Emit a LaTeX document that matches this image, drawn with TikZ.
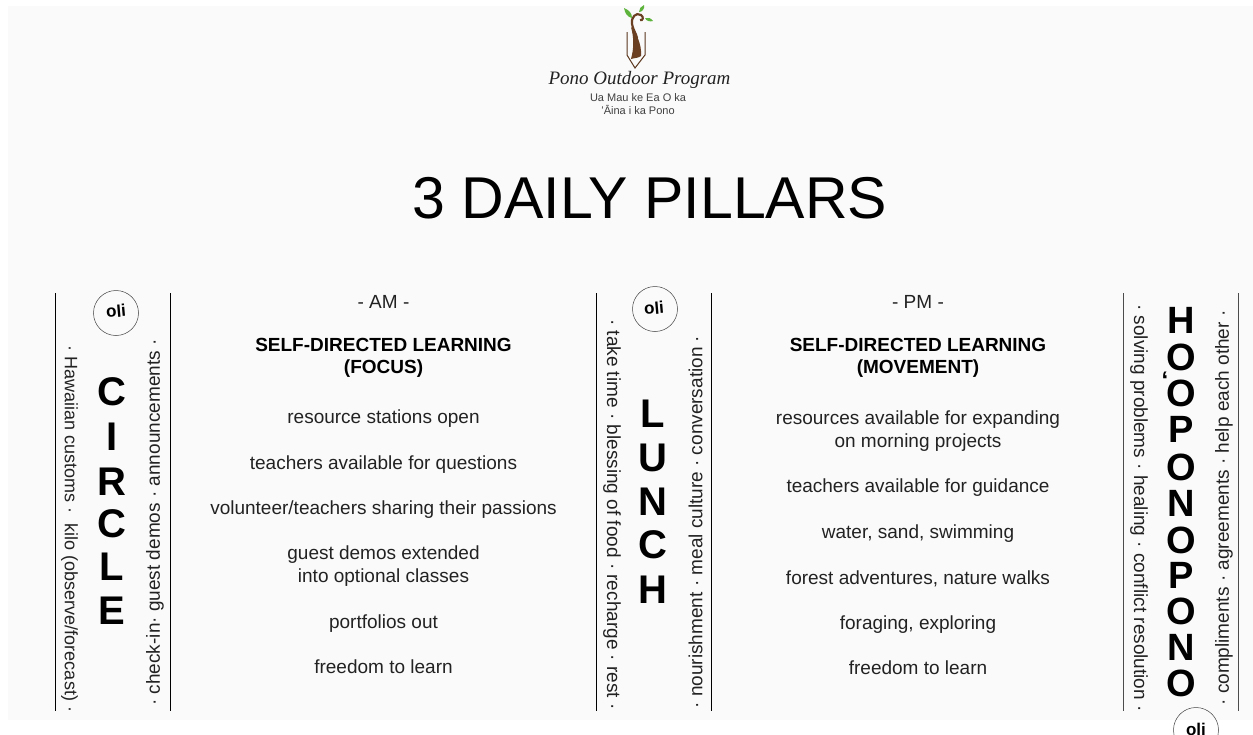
\documentclass[tikz,border=0pt]{standalone}
\usepackage{fontspec}
\setmainfont{Liberation Sans}
\newfontfamily\logofont{Liberation Serif}
\definecolor{pagebg}{HTML}{FAFAFA}
\definecolor{ink}{HTML}{222222}
\definecolor{bark}{HTML}{6B3F22}
\definecolor{leaf}{HTML}{5DB33C}
\begin{document}
\begin{tikzpicture}[x=1pt,y=-1pt,
  every node/.style={inner sep=0pt,outer sep=0pt,text=ink},
  rule/.style={line width=1pt,black},
  softrule/.style={line width=1pt,black!70},
  bodytxt/.style={font=\fontsize{19}{23}\selectfont,align=center},
  headtxt/.style={font=\fontsize{19}{22}\selectfont\bfseries,align=center,text=black},
  sidetxt/.style={font=\fontsize{19}{22}\selectfont},
  bigl/.style={font=\fontsize{40}{40}\selectfont\bfseries,text=black},
  bigh/.style={font=\fontsize{38}{38}\selectfont\bfseries,text=black},
  olic/.style={circle,draw=black!75,line width=0.5pt,minimum size=45pt},
  olit/.style={font=\fontsize{17}{18}\selectfont\bfseries,text=black}]
\useasboundingbox (0,0) rectangle (1253,734);
\fill[white] (0,0) rectangle (1253,734);
\fill[pagebg] (8,6) rectangle (1253,720);
% logo
\draw[bark!85!black,line width=1pt] (627,32) -- (627,55) -- (635,68) -- (645,55) -- (645,32);
\draw[bark,line width=2.2pt] (640,20) .. controls (643,21) and (644,17) .. (641,15) .. controls (636,12) and (631,17) .. (632,24) .. controls (633,30) and (636,33) .. (637,38);
\fill[bark] (631,27) .. controls (636,33) and (642,44) .. (641,56) .. controls (639,58) and (634,58) .. (631,59) .. controls (634,48) and (634,38) .. (631,27) -- cycle;
\fill[leaf] (624,8) .. controls (629,10) and (632,13) .. (632,18) .. controls (627,17) and (625,13) .. (624,8) -- cycle;
\fill[leaf] (644,5) .. controls (645,9) and (642,12) .. (639,12) .. controls (639,9) and (641,6) .. (644,5) -- cycle;
\fill[leaf] (645,18) .. controls (648,17) and (651,18) .. (653,21) .. controls (650,22) and (646,21) .. (645,18) -- cycle;
\node[font=\fontsize{19}{19}\selectfont\logofont\itshape] (logoname) at (639.5,80) {Pono Outdoor Program};
\node[font=\fontsize{11}{13}\selectfont,align=center,text=black!75] (logosub) at (638,104) {Ua Mau ke Ea O ka\\ʻĀina i ka Pono};
% title
\node[font=\fontsize{59}{60}\selectfont,text=black] (title) at (650,198.5) {3 DAILY PILLARS};
% rules
\foreach \n/\x in {a/55,b/170.5,c/596.5,d/711.5}{
  \coordinate (\n1) at (\x,293); \coordinate (\n2) at (\x,711);
  \draw[rule] (\n1) -- (\n2);}
\foreach \n/\x in {e/1123.5,f/1238.5}{
  \coordinate (\n1) at (\x,293); \coordinate (\n2) at (\x,711);
  \draw[softrule] (\n1) -- (\n2);}
% circle column
\node[olic] (oli1) at (116,313) {};
\node[olit,rotate=5] (oli1t) at (116,311) {oli};
\foreach \n/\l/\y in {1/C/392,2/I/437,3/R/482,4/C/524,5/L/567,6/E/611}{
  \node[bigl] (c\n) at (112,\y) {\l};}
\node[font=\fontsize{18}{22}\selectfont,rotate=-90] (s1) at (69.5,529) {· Hawaiian customs ·\ \ kilo (observe/forecast) ·};
\node[sidetxt,rotate=90] (s2) at (155,522.5) {· check-in· guest demos · announcements ·};
% AM
\node[bodytxt] (amh) at (383.5,302) {- AM -};
\node[headtxt] (am0) at (383.5,358) {SELF-DIRECTED LEARNING\\(FOCUS)};
\node[bodytxt] (am1) at (383.5,418.5) {resource stations open};
\node[bodytxt] (am2) at (383.5,464.5) {teachers available for questions};
\node[bodytxt] (am3) at (383.5,509.5) {volunteer/teachers sharing their passions};
\node[bodytxt] (am4) at (383.5,566) {guest demos extended\\into optional classes};
\node[bodytxt] (am5) at (383.5,623.5) {portfolios out};
\node[bodytxt] (am6) at (383.5,667) {freedom to learn};
% lunch column
\node[olic] (oli2) at (655,309) {};
\node[olit,rotate=5] (oli2t) at (654,308) {oli};
\foreach \n/\l/\y in {1/L/414,2/U/458,3/N/502,4/C/545,5/H/590}{
  \node[bigl] (l\n) at (653,\y) {\l};}
\node[sidetxt,rotate=-90] (s3) at (612,514.5) {· take time · blessing of food · recharge · rest ·};
\node[sidetxt,rotate=90] (s4) at (695.5,522) {· nourishment · meal culture · conversation ·};
% PM
\node[bodytxt] (pmh) at (918,302) {- PM -};
\node[headtxt] (pm0) at (918,358) {SELF-DIRECTED LEARNING\\(MOVEMENT)};
\node[bodytxt] (pm1) at (918,431.5) {resources available for expanding\\on morning projects};
\node[bodytxt] (pm2) at (918,487.5) {teachers available for guidance};
\node[bodytxt] (pm3) at (918,533.5) {water, sand, swimming};
\node[bodytxt] (pm4) at (918,579) {forest adventures, nature walks};
\node[bodytxt] (pm5) at (918,624.5) {foraging, exploring};
\node[bodytxt] (pm6) at (918,668) {freedom to learn};
% right column
\node[sidetxt,rotate=-90] (s5) at (1139,508) {· solving problems · healing · conflict resolution ·};
\node[sidetxt,rotate=90] (s6) at (1224,508) {· compliments · agreements · help each other ·};
\foreach \n/\l/\y in {1/H/320,2/O/357,3/O/393,4/P/429,5/O/467,6/N/503,7/O/540,8/P/575,9/O/611,10/N/647,11/O/683}{
  \node[bigh] (h\n) at (1181,\y) {\l};}
\node[font=\fontsize{24}{24}\selectfont\bfseries,text=black] (okina) at (1165,380) {ʻ};
\begin{scope}
\clip (1100,690) rectangle (1253,734);
\node[olic] (oli3) at (1196,730) {};
\node[olit] (oli3t) at (1196,729) {oli};
\end{scope}
\end{tikzpicture}
\end{document}
